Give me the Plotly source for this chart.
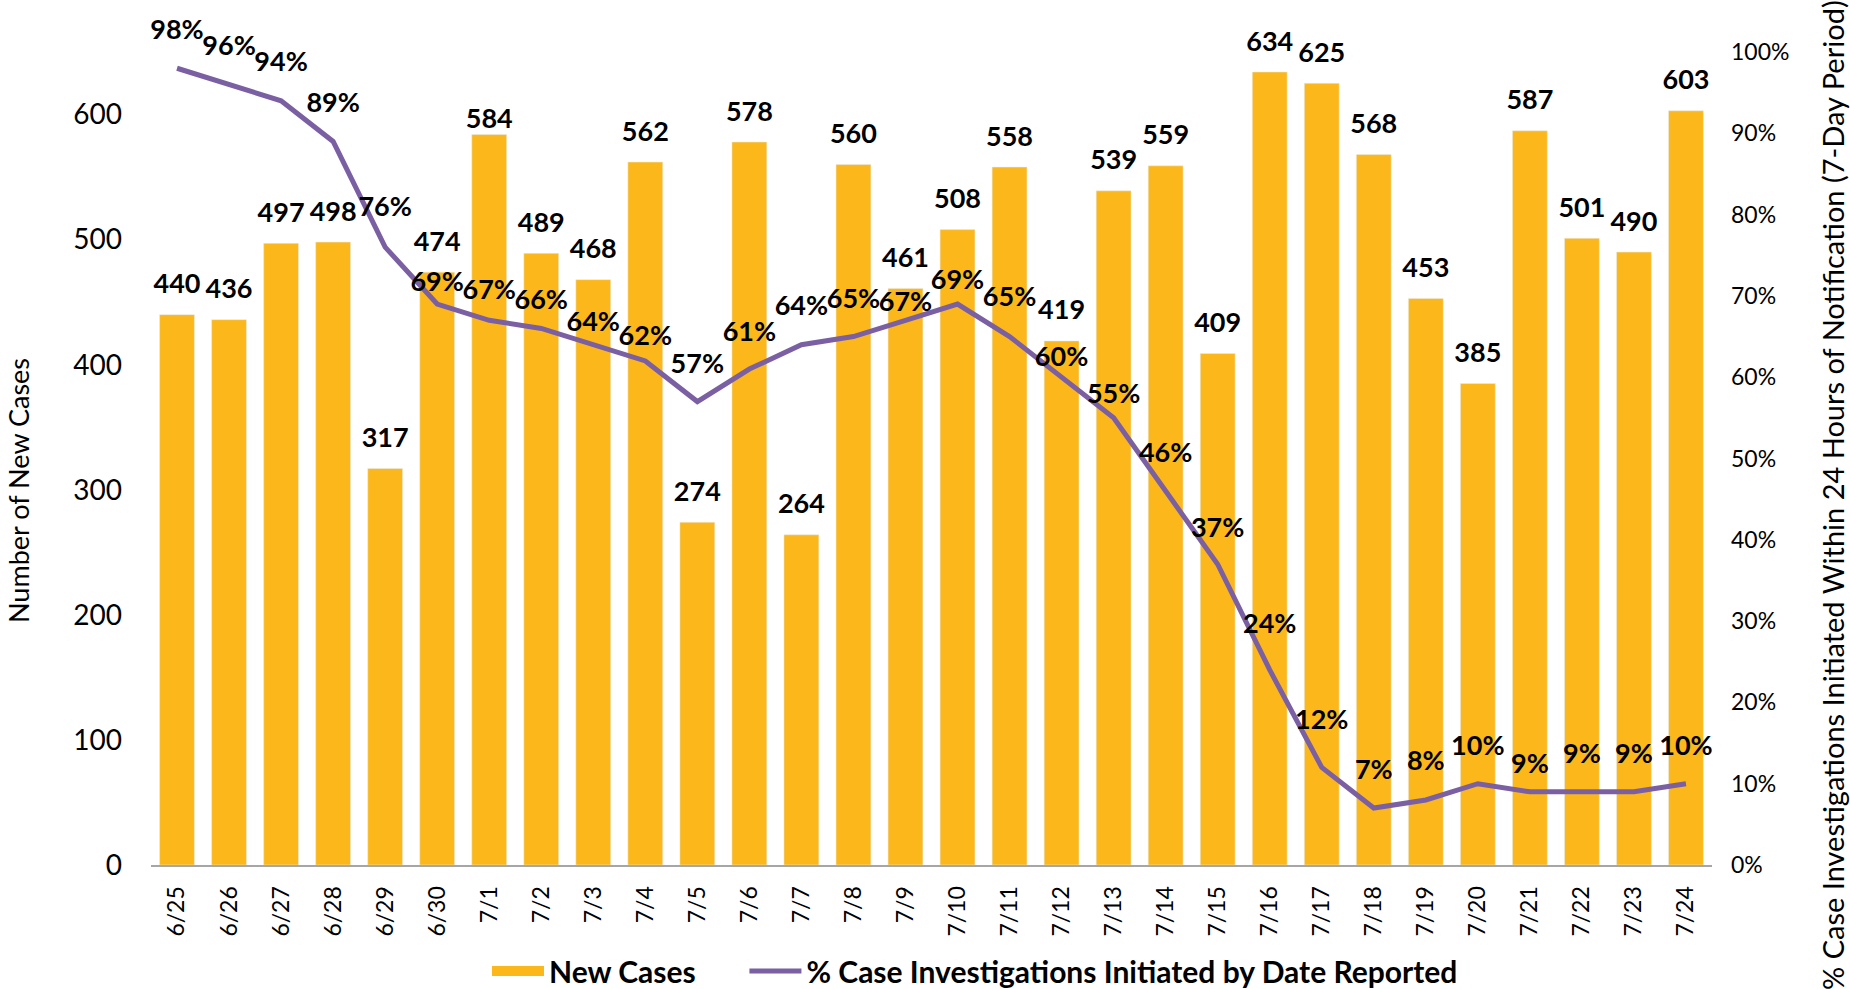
import plotly.graph_objects as go

dates = ["6/25","6/26","6/27","6/28","6/29","6/30","7/1","7/2","7/3","7/4","7/5","7/6","7/7","7/8","7/9",
         "7/10","7/11","7/12","7/13","7/14","7/15","7/16","7/17","7/18","7/19","7/20","7/21","7/22","7/23","7/24"]
new_cases = [440,436,497,498,317,474,584,489,468,562,274,578,264,560,461,
             508,558,419,539,559,409,634,625,568,453,385,587,501,490,603]
pct_initiated = [98,96,94,89,76,69,67,66,64,62,57,61,64,65,67,
                 69,65,60,55,46,37,24,12,7,8,10,9,9,9,10]
left_ticks = [0,100,200,300,400,500,600]
right_ticks = [0,10,20,30,40,50,60,70,80,90,100]

W, H = 1850, 989
L, R, T, B = 151, 138, 52, 124
pw, ph = W - L - R, H - T - B

FONT = "Lato, Carlito, Calibri, Noto Sans"

bar_color = "#FCB81A"
line_color = "#7B5FA3"

# label placement (style only): gap in px between point and its label, as in the original
bar_label_gap = [22] * len(dates)
bar_label_gap[dates.index("7/1")] = 7
line_label_gap = [28, 28, 28, 28, 30, 12, 20, 18, 12, 14, 27, 27, 28, 27, 8,
                  14, 29, 10, 13, 28, 26, 35, 37, 28, 28, 27, 17, 27, 27, 27]


def bar_marker_size(g):
    return max(0, 22 + 1.6 * (g - 22))


def line_marker_size(g):
    return max(0, 30 + 1.6 * (g - 25))


fig = go.Figure()
fig.add_trace(go.Bar(
    x=dates, y=new_cases, name="New Cases", marker_color=bar_color, showlegend=False,
))
# legend swatch for the bars (wide rectangle like the original)
fig.add_trace(go.Scatter(
    x=[None], y=[None], mode="lines", name="New Cases" + "\u00a0" * 6,
    line=dict(color=bar_color, width=17), showlegend=True,
))
# bar value labels
fig.add_trace(go.Scatter(
    x=dates, y=new_cases, mode="markers+text", showlegend=False, hoverinfo="skip",
    marker=dict(size=[bar_marker_size(g) for g in bar_label_gap], color="rgba(0,0,0,0)",
                line=dict(width=0, color="rgba(0,0,0,0)")),
    text=[str(v) for v in new_cases], textposition="top center",
    textfont=dict(family=FONT, size=27, color="black", weight="bold"),
    cliponaxis=False,
))
fig.add_trace(go.Scatter(
    x=dates, y=[p / 100 for p in pct_initiated], yaxis="y2", mode="lines+markers+text",
    name="% Case Investigations Initiated by Date Reported",
    line=dict(color=line_color, width=5),
    marker=dict(size=[line_marker_size(g) for g in line_label_gap], color="rgba(0,0,0,0)",
                line=dict(width=0, color="rgba(0,0,0,0)")),
    text=[f"{p}%" for p in pct_initiated], textposition="top center",
    textfont=dict(family=FONT, size=27, color="black", weight="bold"),
    cliponaxis=False,
))

fig.update_layout(
    width=W, height=H, autosize=False,
    margin=dict(l=L, r=R, t=T, b=B, autoexpand=False),
    paper_bgcolor="white", plot_bgcolor="white",
    bargap=0.33, showlegend=True,
    legend=dict(orientation="h", x=(487 - L) / pw, xanchor="left",
                y=-(971 - (H - B)) / ph, yanchor="middle",
                font=dict(family=FONT, size=30, color="black", weight="bold"),
                itemwidth=52, tracegroupgap=0, traceorder="normal"),
    xaxis=dict(type="category", range=[-0.5, len(dates) - 0.5], tickangle=-90,
               showgrid=False, showline=True,
               linecolor="#A6A6A6", linewidth=2, ticks="", ticklabelstandoff=10,
               tickfont=dict(family=FONT, size=23, color="black")),
    yaxis=dict(range=[0, 650], tickvals=left_ticks, showgrid=False, zeroline=False,
               showline=False, ticks="", ticklabelstandoff=28,
               tickfont=dict(family=FONT, size=28, color="black")),
    yaxis2=dict(range=[0, 1.0], overlaying="y", side="right", tickvals=[t / 100 for t in right_ticks],
                ticktext=[f"{t}%" for t in right_ticks], showgrid=False, zeroline=False,
                showline=False, ticks="", ticklabelstandoff=18,
                tickfont=dict(family=FONT, size=23, color="black")),
)

fig.add_annotation(text="Number of New Cases", xref="paper", yref="paper",
                   x=-(L - 18) / pw, y=(H - B - 491) / ph, xanchor="center", yanchor="middle",
                   textangle=-90, showarrow=False,
                   font=dict(family=FONT, size=27, color="black"))
fig.add_annotation(text="% Case Investigations Initiated Within 24 Hours of Notification (7-Day Period)",
                   xref="paper", yref="paper",
                   x=1 + (1832 - (W - R)) / pw, y=(H - B + 2) / ph, xanchor="center", yanchor="top",
                   textangle=-90, showarrow=False,
                   font=dict(family=FONT, size=29, color="black"))

fig.write_html("out.html", config={"displayModeBar": False},
               post_script="document.body.style.margin='0px';")
